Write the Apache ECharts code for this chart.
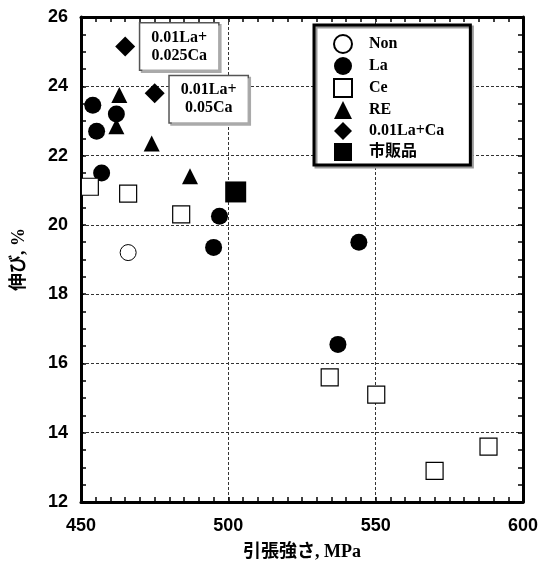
<!doctype html>
<html>
<head>
<meta charset="utf-8">
<title>引張強さと伸び</title>
<script src="https://cdn.jsdelivr.net/npm/echarts@6/dist/echarts.min.js"></script>
<style>
html,body{margin:0;padding:0;background:#fff;}
#chart{width:541px;height:566px;}
</style>
</head>
<body>
<div id="chart"></div>
<script type="text/javascript">
// 引張強さ(MPa), 伸び(%)
var nonData = [[466, 19.2]];
var laData = [[454, 23.45], [462, 23.2], [455.3, 22.7], [457, 21.5], [497, 20.25], [495, 19.35], [544.3, 19.5], [537.2, 16.55]];
var ceData = [[453, 21.1], [466, 20.9], [484, 20.3], [534.4, 15.6], [550.2, 15.1], [570, 12.9], [588.3, 13.6]];
var reData = [[463, 23.75], [462, 22.85], [474, 22.35], [487, 21.4]];
var laCaData = [[465, 25.15], [475, 23.8]];
var laCaNotes = ['0.01La+\n0.025Ca', '0.01La+\n0.05Ca'];
var shihanData = [[502.5, 20.95]];
var seriesNames = ['Non', 'La', 'Ce', 'RE', '0.01La+Ca', '市販品'];

var serifFont = "'Liberation Serif', 'Noto Sans CJK JP', serif";
var sansFont = "'Liberation Sans', Arial, sans-serif";

(function(){
	var chart = echarts.init(document.getElementById('chart'));

	var axisCommon = {
		axisLine: {show: true, onZero: false, lineStyle: {color: '#000', width: 3}},
		axisTick: {show: true, inside: true, length: 5, lineStyle: {color: '#000', width: 1.5}},
		minorTick: {show: true, length: 5, lineStyle: {color: '#000', width: 1.5}}
	};

	// 注記ボックスは菱形の右側に置く（中央揃えなので箱幅の半分だけずらす）
	var laCaItems = laCaData.map(function(d, i){
		return {
			value: d,
			label: {
				show: true,
				position: 'right',
				distance: 4,
				offset: i == 1 ? [40, 6] : [40, 0],
				formatter: laCaNotes[i],
				fontFamily: serifFont,
				fontWeight: 'bold',
				fontSize: 16,
				lineHeight: 18,
				align: 'center',
				color: '#000',
				backgroundColor: '#fff',
				borderColor: '#555',
				borderWidth: 1.5,
				padding: [5, 11],
				shadowColor: '#aaa',
				shadowOffsetX: 2,
				shadowOffsetY: 2
			}
		};
	});

	var option = {
		animation: false,
		backgroundColor: '#fff',
		grid: {left: 81, right: 17, top: 17, bottom: 64},
		legend: {
			orient: 'vertical',
			left: 314,
			top: 25,
			data: seriesNames,
			itemWidth: 18,
			itemHeight: 18,
			itemGap: 3,
			padding: [9, 26, 4, 19],
			backgroundColor: '#fff',
			borderColor: '#000',
			borderWidth: 3,
			shadowColor: '#999',
			shadowOffsetX: 2,
			shadowOffsetY: 2,
			textStyle: {fontFamily: serifFont, fontWeight: 'bold', fontSize: 16, color: '#000', padding: [0, 0, 0, 12]}
		},
		xAxis: [
			Object.assign({
				type: 'value',
				min: 450,
				max: 600,
				interval: 50,
				name: '引張強さ, MPa',
				nameLocation: 'middle',
				nameGap: 41,
				nameTextStyle: {fontFamily: serifFont, fontWeight: 'bold', fontSize: 18, color: '#000'},
				axisLabel: {color: '#000', fontFamily: sansFont, fontWeight: 'bold', fontSize: 18, margin: 15},
				splitLine: {show: true, lineStyle: {color: '#333', width: 1, type: [3, 2]}}
			}, axisCommon, {minorTick: Object.assign({splitNumber: 10}, axisCommon.minorTick)}),
			Object.assign({
				type: 'value',
				position: 'top',
				min: 450,
				max: 600,
				interval: 50,
				axisLabel: {show: false},
				splitLine: {show: false}
			}, axisCommon, {minorTick: Object.assign({splitNumber: 10}, axisCommon.minorTick)})
		],
		yAxis: [
			Object.assign({
				type: 'value',
				min: 12,
				max: 26,
				interval: 2,
				name: '伸び, %',
				nameLocation: 'middle',
				nameGap: 53,
				nameTextStyle: {fontFamily: serifFont, fontWeight: 'bold', fontSize: 18, color: '#000'},
				axisLabel: {color: '#000', fontFamily: sansFont, fontWeight: 'bold', fontSize: 18, margin: 13},
				splitLine: {show: true, lineStyle: {color: '#333', width: 1, type: [3, 2]}}
			}, axisCommon, {minorTick: Object.assign({splitNumber: 4}, axisCommon.minorTick)}),
			Object.assign({
				type: 'value',
				position: 'right',
				min: 12,
				max: 26,
				interval: 2,
				axisLabel: {show: false},
				splitLine: {show: false}
			}, axisCommon, {minorTick: Object.assign({splitNumber: 4}, axisCommon.minorTick)})
		],
		series: [
			{
				name: 'Non', type: 'scatter', symbol: 'circle', symbolSize: 16,
				itemStyle: {color: '#fff', borderColor: '#000', borderWidth: 1, opacity: 1},
				data: nonData
			},
			{
				name: 'La', type: 'scatter', symbol: 'circle', symbolSize: 17,
				itemStyle: {color: '#000', opacity: 1},
				data: laData
			},
			{
				name: 'Ce', type: 'scatter', symbol: 'rect', symbolSize: 17,
				itemStyle: {color: '#fff', borderColor: '#000', borderWidth: 1.2, opacity: 1},
				data: ceData
			},
			{
				name: 'RE', type: 'scatter', symbol: 'triangle', symbolSize: 16,
				itemStyle: {color: '#000', opacity: 1},
				data: reData
			},
			{
				name: '0.01La+Ca', type: 'scatter', symbol: 'diamond', symbolSize: 20,
				itemStyle: {color: '#000', opacity: 1},
				data: laCaItems
			},
			{
				name: '市販品', type: 'scatter', symbol: 'rect', symbolSize: 21,
				itemStyle: {color: '#000', opacity: 1},
				data: shihanData
			}
		]
	};
	chart.setOption(option);
})();
</script>
</body>
</html>
